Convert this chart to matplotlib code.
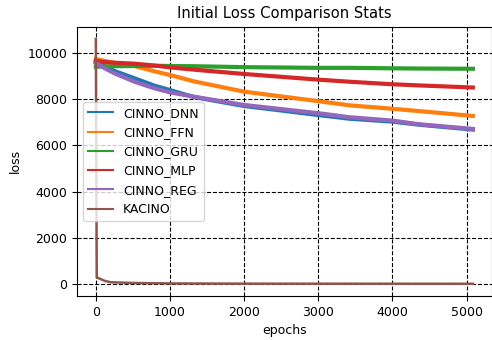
import matplotlib
matplotlib.use('Agg')
import matplotlib.pyplot as plt

epochs = [0, 120, 250, 520, 790, 1000, 1330, 2000, 3000, 3420, 4000, 4360, 5085]

cinno_dnn = [9620, 9420, 9215, 8900, 8580, 8390, 8080, 7700, 7310, 7150, 7025, 6890, 6680]
cinno_ffn = [9730, 9650, 9570, 9430, 9200, 9040, 8760, 8320, 7910, 7730, 7580, 7480, 7270]
cinno_gru = [9400, 9410, 9420, 9430, 9440, 9430, 9420, 9380, 9350, 9350, 9330, 9320, 9310]
cinno_mlp = [9650, 9600, 9570, 9530, 9450, 9370, 9270, 9085, 8840, 8750, 8640, 8590, 8500]
cinno_reg = [9560, 9330, 9115, 8750, 8465, 8290, 8100, 7745, 7390, 7215, 7070, 6910, 6710]

kacino_epochs = [0, 12, 120, 200, 500, 1000, 2000, 5085]
kacino = [10600, 290, 140, 80, 50, 30, 20, 15]

labels = ['CINNO_DNN', 'CINNO_FFN', 'CINNO_GRU', 'CINNO_MLP', 'CINNO_REG']

fig = plt.figure(figsize=(4.92, 3.4), dpi=100)
ax = fig.add_axes([0.1565, 0.1294, 0.843, 0.7921])

for vals, lab in zip([cinno_dnn, cinno_ffn, cinno_gru, cinno_mlp, cinno_reg], labels):
    ax.plot(epochs, vals, label=lab, linewidth=3)
ax.plot(kacino_epochs, kacino, label='KACINO', linewidth=1.8)

ax.grid(color='k', linestyle='--', linewidth=0.8)
ax.set_title('Initial Loss Comparison Stats', fontsize=10.6)
ax.set_xlabel('epochs', fontsize=9)
ax.set_ylabel('loss', fontsize=9)
ax.tick_params(labelsize=9)
leg = ax.legend(loc='center left', fontsize=9)
for line in leg.get_lines():
    line.set_linewidth(1.5)

fig.savefig('out.png', dpi=100)
